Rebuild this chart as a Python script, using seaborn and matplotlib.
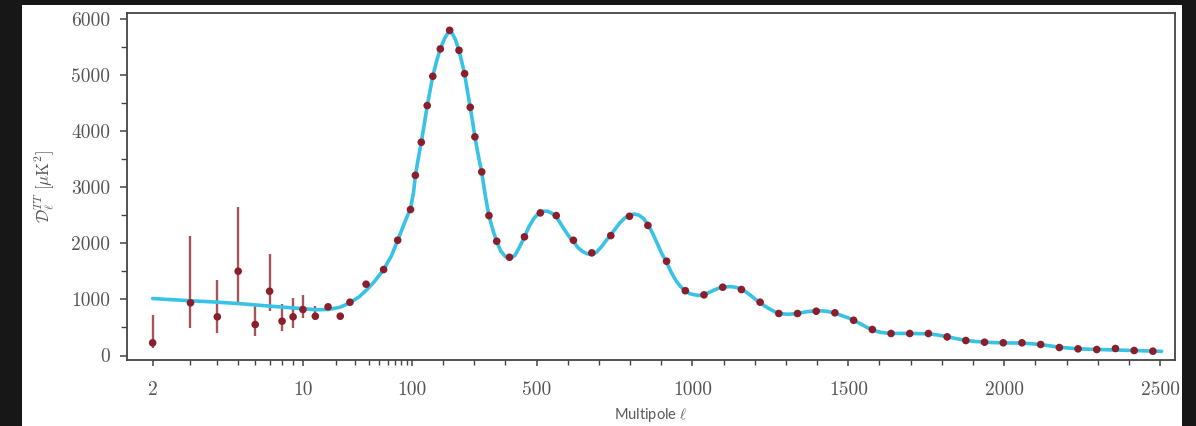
import numpy as np
import pandas as pd
import matplotlib
matplotlib.use("Agg")
import matplotlib.pyplot as plt
from matplotlib.patches import Rectangle
import seaborn as sns

# --- Low-multipole measurements with asymmetric uncertainties ---
ell_low = [2, 3, 4, 5, 6, 7, 8, 9, 10, 13]
dl_low = [226, 938, 689, 1501, 552, 1145, 611, 689, 819, 700]
err_low_down = [100, 445, 297, 563, 196, 356, 178, 196, 148, 59]
err_low_up = [504, 1198, 664, 1146, 374, 671, 315, 338, 267, 178]

# --- Binned high-multipole measurements ---
ell_high = [17, 22, 27, 38, 55, 74, 97, 111, 130, 149, 167, 191, 221, 251, 269,
            287, 302, 324, 347, 372, 413, 461, 512, 563, 618, 677, 738, 798, 857,
            917, 977, 1037, 1097, 1157, 1217, 1277, 1337, 1397, 1457, 1517, 1577,
            1637, 1697, 1757, 1817, 1877, 1937, 1997, 2057, 2117, 2177, 2237, 2297,
            2357, 2417, 2477]
dl_high = [867, 700, 949, 1270, 1531, 2053, 2600, 3210, 3798, 4451, 4973, 5460, 5792,
           5436, 5020, 4421, 3894, 3270, 2492, 2035, 1750, 2113, 2540, 2492, 2053,
           1828, 2136, 2480, 2317, 1679, 1154, 1080, 1216, 1175, 949, 748, 748, 789,
           760, 628, 463, 392, 392, 392, 332, 267, 237, 226, 226, 196, 142, 119, 107,
           125, 89, 77]

# --- Best-fit model spectrum ---
ell_model = [2, 3, 4, 5, 6, 7, 8, 10, 13, 17, 22, 27, 33, 38, 45, 55, 65, 74, 85, 97,
             105, 111, 120, 130, 140, 149, 158, 167, 180, 191, 205, 215, 222, 230, 240,
             251, 260, 269, 278, 287, 295, 302, 313, 324, 335, 347, 360, 372, 385, 400,
             415, 430, 445, 461, 475, 490, 505, 520, 535, 550, 563, 578, 593, 608, 618,
             633, 648, 663, 677, 692, 707, 722, 738, 753, 768, 783, 798, 813, 828, 843,
             857, 872, 887, 902, 917, 932, 947, 962, 977, 992, 1007, 1022, 1037, 1052,
             1067, 1082, 1097, 1112, 1127, 1142, 1157, 1172, 1187, 1202, 1217, 1232,
             1247, 1262, 1277, 1292, 1307, 1322, 1337, 1352, 1367, 1382, 1397, 1412,
             1427, 1442, 1457, 1472, 1487, 1502, 1517, 1532, 1547, 1562, 1577, 1592,
             1607, 1622, 1637, 1667, 1697, 1727, 1757, 1787, 1817, 1847, 1877, 1907,
             1937, 1967, 1997, 2027, 2057, 2087, 2117, 2147, 2177, 2207, 2237, 2267,
             2297, 2327, 2357, 2387, 2417, 2447, 2477, 2505]
dl_model = [1015, 975, 950, 925, 900, 878, 862, 835, 815, 820, 860, 940, 1050, 1160,
            1310, 1530, 1780, 2050, 2350, 2620, 2900, 3200, 3500, 3800, 4130, 4450,
            4720, 4980, 5260, 5460, 5650, 5740, 5760, 5730, 5620, 5430, 5230, 5010,
            4720, 4420, 4150, 3890, 3560, 3260, 2860, 2490, 2230, 2030, 1860, 1760,
            1730, 1780, 1930, 2110, 2290, 2430, 2530, 2570, 2570, 2530, 2470, 2340,
            2210, 2090, 2030, 1920, 1850, 1810, 1800, 1840, 1930, 2040, 2150, 2260,
            2370, 2450, 2500, 2520, 2500, 2440, 2330, 2180, 1995, 1810, 1660, 1480,
            1335, 1225, 1150, 1100, 1080, 1070, 1085, 1120, 1160, 1195, 1215, 1225,
            1225, 1210, 1180, 1130, 1070, 1000, 940, 880, 830, 785, 755, 740, 735,
            740, 750, 765, 780, 790, 795, 795, 790, 775, 755, 725, 695, 665, 625, 585,
            540, 495, 460, 430, 410, 400, 395, 393, 392, 390, 385, 365, 335, 300, 270,
            250, 238, 230, 225, 223, 222, 210, 195, 172, 148, 133, 120, 113, 108, 103,
            98, 93, 88, 83, 78, 74]

x_ticks = [2, 10, 100, 500, 1000, 1500, 2000, 2500]
x_tick_labels = ["2", "10", "100", "500", "1000", "1500", "2000", "2500"]
y_ticks = [0, 1000, 2000, 3000, 4000, 5000, 6000]

low_df = pd.DataFrame({"ell": ell_low, "Dl": dl_low})
high_df = pd.DataFrame({"ell": ell_high, "Dl": dl_high})
model_df = pd.DataFrame({"ell": ell_model, "Dl": dl_model})
points_df = pd.concat([low_df, high_df], ignore_index=True)


# Hybrid multipole axis: two logarithmic pieces below 100, linear above.
def _forward(ell):
    ell = np.clip(np.asarray(ell, dtype=float), 1e-3, None)
    with np.errstate(all="ignore"):
        a = 215.0 * np.log10(ell / 2.0)
        b = 150.3 + 109.0 * np.log10(ell / 10.0)
        c = 259.3 + 0.3117 * (ell - 100.0)
    return np.where(ell <= 10, a, np.where(ell <= 100, b, c))


def _inverse(u):
    u = np.asarray(u, dtype=float)
    with np.errstate(all="ignore"):
        a = 2.0 * 10 ** (np.clip(u, -2000, 2000) / 215.0)
        b = 10.0 * 10 ** (np.clip(u - 150.3, -2000, 2000) / 109.0)
        c = 100.0 + (u - 259.3) / 0.3117
    return np.where(u <= 150.3, a, np.where(u <= 259.3, b, c))


sns.set_theme(style="ticks")
plt.rcParams["mathtext.fontset"] = "cm"
plt.rcParams["font.family"] = ["DejaVu Sans"]

W, H = 1196, 426
fig = plt.figure(figsize=(W / 100, H / 100), dpi=100, facecolor="#171717")
panel = Rectangle((22 / W, 0), (1182 - 22) / W, (H - 5) / H,
                  transform=fig.transFigure, facecolor="white",
                  edgecolor="none", zorder=-10)
fig.add_artist(panel)
ax = fig.add_axes([127 / W, 1 - 360 / H, (1175 - 127) / W, (360 - 13) / H])
ax.set_zorder(1)
ax.set_facecolor("white")
ax.set_xscale("function", functions=(_forward, _inverse))

red = "#8a1f2b"
ax.errorbar(ell_low, dl_low, yerr=[err_low_down, err_low_up], fmt="none",
            ecolor="#a3555a", elinewidth=1.7, capsize=0, zorder=2)
sns.lineplot(data=model_df, x="ell", y="Dl", ax=ax, color="#38c3e6",
             linewidth=2.6, sort=False, zorder=3)
sns.scatterplot(data=points_df, x="ell", y="Dl", ax=ax, color=red, s=30,
                edgecolor="none", zorder=4)

ax.set_xlim(1.52, 2548)
ax.set_ylim(-80, 6100)

ax.set_xticks(x_ticks)
ax.set_xticklabels(x_tick_labels)
minor_x = list(range(3, 10)) + list(range(20, 100, 10)) + \
    [v for v in range(200, 2500, 100) if v % 500 != 0]
ax.set_xticks(minor_x, minor=True)
ax.set_yticks(y_ticks)
ax.set_yticks(np.arange(500, 6000, 1000), minor=True)

for lab in ax.get_xticklabels() + ax.get_yticklabels():
    lab.set_fontfamily("cmr10")
    lab.set_fontsize(14)
    lab.set_color("#555555")

ax.tick_params(axis="x", which="major", direction="out", length=4, width=1.1,
               color="#444444", pad=11)
ax.tick_params(axis="x", which="minor", direction="out", length=3.5, width=1.0,
               color="#444444")
ax.tick_params(axis="y", which="major", direction="out", length=5, width=1.1,
               color="#444444", pad=7)
ax.tick_params(axis="y", which="minor", direction="out", length=4, width=1.0,
               color="#444444")
ax.tick_params(top=False, right=False, which="both")

for side in ["left", "right", "top", "bottom"]:
    ax.spines[side].set_visible(True)
    ax.spines[side].set_color("#444444")
    ax.spines[side].set_linewidth(1.3)

ax.set_xlabel(r"Multipole $\ell$", fontsize=10.5, color="#5a5a5a",
              fontfamily=["Lato", "DejaVu Sans"], labelpad=5)
ax.set_ylabel(r"$\mathcal{D}_{\ell}^{TT}\ [\mu\mathrm{K}^2]$", fontsize=12,
              color="#555555", labelpad=10)

fig.savefig("out.png", dpi=100, facecolor=fig.get_facecolor())
